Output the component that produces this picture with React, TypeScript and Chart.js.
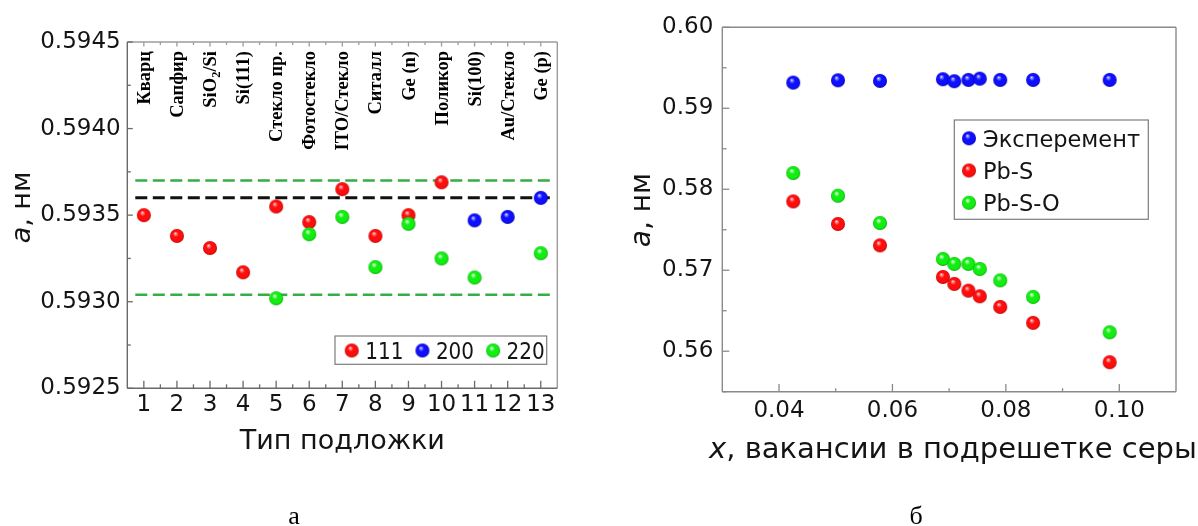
import React, { useEffect, useRef } from 'react';
import { Chart, registerables } from 'chart.js';

Chart.register(...registerables);

const SANS = '"DejaVu Sans", Verdana, sans-serif';
const SERIF = '"Liberation Serif", "Times New Roman", serif';

// ---- Panel а: lattice parameter of PbS films on different substrates ----
const SUBSTRATE_TYPES = [1, 2, 3, 4, 5, 6, 7, 8, 9, 10, 11, 12, 13];
const SUBSTRATE_NAMES = [
  'Кварц', 'Сапфир', 'SiO₂/Si', 'Si(111)', 'Стекло пр.', 'Фотостекло', 'ITO/Стекло',
  'Ситалл', 'Ge (n)', 'Поликор', 'Si(100)', 'Au/Стекло', 'Ge (p)',
];
const LATTICE_111 = [0.5935, 0.59338, 0.59331, 0.59317, 0.59355, 0.59346, 0.59365, 0.59338, 0.5935, 0.59369, null, null, null];
const LATTICE_200 = [null, null, null, null, null, null, null, null, null, null, 0.59347, 0.59349, 0.5936];
const LATTICE_220 = [null, null, null, null, 0.59302, 0.59339, 0.59349, 0.5932, 0.59345, 0.59325, 0.59314, null, 0.59328];
const PBS_REFERENCE = 0.5936;
const BAND_220_UPPER = 0.5937;
const BAND_220_LOWER = 0.59304;
const SUBSTRATE_Y_TICKS = [0.5925, 0.593, 0.5935, 0.594, 0.5945];

// ---- Panel б: lattice parameter vs sulfur-sublattice vacancies ----
const SULFUR_VACANCY = [0.0425, 0.0504, 0.0578, 0.0689, 0.0709, 0.0734, 0.0754, 0.079, 0.0848, 0.0983];
const A_EXPERIMENT = [0.59317, 0.59346, 0.59338, 0.59359, 0.59334, 0.5935, 0.59366, 0.5935, 0.5935, 0.5935];
const A_PB_S = [0.5785, 0.57571, 0.57307, 0.56917, 0.56831, 0.56748, 0.56678, 0.56547, 0.5635, 0.55864];
const A_PB_S_O = [0.582, 0.5792, 0.57583, 0.57139, 0.57078, 0.57078, 0.57016, 0.56875, 0.56671, 0.56234];
const VACANCY_X_TICKS = [0.04, 0.06, 0.08, 0.1];
const VACANCY_Y_TICKS = [0.56, 0.57, 0.58, 0.59, 0.6];

type Part = { text: string; italic?: boolean };
type TickSpec = { axis: 'x' | 'y'; edge: 'left' | 'bottom' | 'top'; values: number[]; len: number };
type RefLine = { value: number; color: string; width: number };
type DecorSpec = {
  frame: { left: string; bottom: string; top: string; right: string; width: number };
  ticks: TickSpec[];
  refLines?: RefLine[];
  topLabels?: { xs: number[]; names: string[]; size: number; stretch: number; inset: number };
  legend: {
    orientation: 'row' | 'column';
    box: { x: number; y: number; w: number; h: number };
    size: number;
    scaleX: number;
    firstX: number;
    textGap: number;
    itemGap: number;
    firstY: number;
    rowStep: number;
  };
  xTitle: { parts: Part[]; x: number; baseline: number; size: number };
  yTitle: { parts: Part[]; x: number; y: number; size: number };
  letter: { text: string; x: number; baseline: number; size: number };
};

const TEXT = '#141414';

function midpoints(values: number[]): number[] {
  const out: number[] = [];
  for (let i = 0; i < values.length - 1; i++) out.push((values[i] + values[i + 1]) / 2);
  return out;
}

function toPoints(xs: number[], ys: (number | null)[]) {
  const pts: { x: number; y: number }[] = [];
  xs.forEach((x, i) => {
    const y = ys[i];
    if (y !== null && y !== undefined) pts.push({ x, y });
  });
  return pts;
}

function makeSphere(base: string, light: string, dark: string, d: number): HTMLCanvasElement {
  const c = document.createElement('canvas');
  c.width = d + 2;
  c.height = d + 2;
  const g = c.getContext('2d')!;
  const cx = c.width / 2;
  const cy = c.height / 2;
  const r = d / 2;
  const grad = g.createRadialGradient(cx - r * 0.25, cy - r * 0.4, 0, cx, cy, r);
  grad.addColorStop(0, '#ffffff');
  grad.addColorStop(0.13, light);
  grad.addColorStop(0.4, base);
  grad.addColorStop(0.82, base);
  grad.addColorStop(1, dark);
  g.fillStyle = grad;
  g.beginPath();
  g.arc(cx, cy, r, 0, Math.PI * 2);
  g.fill();
  return c;
}

function drawParts(ctx: CanvasRenderingContext2D, parts: Part[], size: number, x: number, y: number) {
  const fontOf = (p: Part) => `${p.italic ? 'italic ' : ''}${size}px ${SANS}`;
  const widths = parts.map((p) => {
    ctx.font = fontOf(p);
    return ctx.measureText(p.text).width;
  });
  const total = widths.reduce((a, b) => a + b, 0);
  let cx = x - total / 2;
  ctx.textAlign = 'left';
  ctx.textBaseline = 'alphabetic';
  ctx.fillStyle = TEXT;
  parts.forEach((p, i) => {
    ctx.font = fontOf(p);
    ctx.fillText(p.text, cx, y);
    cx += widths[i];
  });
}

// Vertical substrate name, reading bottom-to-top, ending at the anchor; subscript digits are lowered
function drawVerticalName(
  ctx: CanvasRenderingContext2D,
  name: string,
  x: number,
  yTop: number,
  size: number,
  stretch: number,
) {
  const segs: { text: string; sub: boolean }[] = [];
  for (const ch of name) {
    const code = ch.charCodeAt(0);
    const sub = code >= 0x2080 && code <= 0x2089;
    const t = sub ? String.fromCharCode(code - 0x2080 + 48) : ch;
    const last = segs[segs.length - 1];
    if (last && last.sub === sub) last.text += t;
    else segs.push({ text: t, sub });
  }
  const subSize = size * 0.68;
  const fontOf = (sub: boolean) => `bold ${sub ? subSize : size}px ${SERIF}`;
  const widths = segs.map((s) => {
    ctx.font = fontOf(s.sub);
    return ctx.measureText(s.text).width;
  });
  const total = widths.reduce((a, b) => a + b, 0);
  ctx.save();
  ctx.translate(x, yTop);
  ctx.rotate(-Math.PI / 2);
  ctx.scale(stretch, 1);
  ctx.textAlign = 'left';
  ctx.textBaseline = 'alphabetic';
  ctx.fillStyle = '#000';
  let cx = -total;
  const base = size * 0.33;
  segs.forEach((s, i) => {
    ctx.font = fontOf(s.sub);
    ctx.fillText(s.text, cx, s.sub ? base + size * 0.2 : base);
    cx += widths[i];
  });
  ctx.restore();
}

function decorPlugin(spec: DecorSpec) {
  return {
    id: 'decor',
    beforeDatasetsDraw(chart: any) {
      const { ctx, chartArea: a, scales } = chart;
      ctx.save();
      // dashed reference levels
      (spec.refLines || []).forEach((l) => {
        const y = scales.y.getPixelForValue(l.value);
        ctx.strokeStyle = l.color;
        ctx.lineWidth = l.width;
        ctx.setLineDash([12, 5.5]);
        ctx.beginPath();
        ctx.moveTo(a.left + 8, y);
        ctx.lineTo(a.right - 5, y);
        ctx.stroke();
      });
      ctx.setLineDash([]);
      // frame
      const f = spec.frame;
      ctx.lineWidth = f.width;
      const side = (color: string, x1: number, y1: number, x2: number, y2: number) => {
        ctx.strokeStyle = color;
        ctx.beginPath();
        ctx.moveTo(x1, y1);
        ctx.lineTo(x2, y2);
        ctx.stroke();
      };
      side(f.top, a.left, a.top, a.right, a.top);
      side(f.right, a.right, a.top, a.right, a.bottom);
      side(f.left, a.left, a.top, a.left, a.bottom);
      side(f.bottom, a.left, a.bottom, a.right, a.bottom);
      // inward tick marks
      ctx.lineWidth = 1.3;
      spec.ticks.forEach((t) => {
        const sc = scales[t.axis];
        ctx.strokeStyle = t.edge === 'top' ? f.top : t.edge === 'left' ? f.left : f.bottom;
        t.values.forEach((v) => {
          const p = sc.getPixelForValue(v);
          ctx.beginPath();
          if (t.edge === 'left') {
            ctx.moveTo(a.left, p);
            ctx.lineTo(a.left + t.len, p);
          } else if (t.edge === 'bottom') {
            ctx.moveTo(p, a.bottom);
            ctx.lineTo(p, a.bottom - t.len);
          } else {
            ctx.moveTo(p, a.top);
            ctx.lineTo(p, a.top + t.len);
          }
          ctx.stroke();
        });
      });
      // substrate names along the top
      if (spec.topLabels) {
        const tl = spec.topLabels;
        tl.xs.forEach((v, i) => {
          drawVerticalName(ctx, tl.names[i], scales.x.getPixelForValue(v), a.top + tl.inset, tl.size, tl.stretch);
        });
      }
      ctx.restore();
    },
    afterDatasetsDraw(chart: any) {
      const { ctx } = chart;
      const lg = spec.legend;
      ctx.save();
      ctx.fillStyle = '#fff';
      ctx.fillRect(lg.box.x, lg.box.y, lg.box.w, lg.box.h);
      ctx.strokeStyle = '#7c7c7c';
      ctx.lineWidth = 1.2;
      ctx.strokeRect(lg.box.x, lg.box.y, lg.box.w, lg.box.h);
      ctx.font = `${lg.size}px ${SANS}`;
      ctx.textAlign = 'left';
      ctx.textBaseline = 'alphabetic';
      ctx.fillStyle = TEXT;
      const capHalf = lg.size * 0.729 * 0.5;
      let x = lg.firstX;
      let y = lg.firstY;
      chart.data.datasets.forEach((ds: any) => {
        const img = ds.pointStyle as HTMLCanvasElement;
        ctx.drawImage(img, x - img.width / 2, y - img.height / 2);
        ctx.save();
        ctx.translate(x + lg.textGap, y + capHalf);
        ctx.scale(lg.scaleX, 1);
        ctx.fillText(ds.label, 0, 0);
        ctx.restore();
        if (lg.orientation === 'row') {
          x += lg.textGap + ctx.measureText(ds.label).width * lg.scaleX + lg.itemGap;
        } else {
          y += lg.rowStep;
        }
      });
      ctx.restore();
    },
    afterDraw(chart: any) {
      const { ctx } = chart;
      ctx.save();
      drawParts(ctx, spec.xTitle.parts, spec.xTitle.size, spec.xTitle.x, spec.xTitle.baseline);
      ctx.save();
      ctx.translate(spec.yTitle.x, spec.yTitle.y);
      ctx.rotate(-Math.PI / 2);
      drawParts(ctx, spec.yTitle.parts, spec.yTitle.size, 0, 0);
      ctx.restore();
      ctx.font = `${spec.letter.size}px ${SERIF}`;
      ctx.textAlign = 'center';
      ctx.textBaseline = 'alphabetic';
      ctx.fillStyle = '#000';
      ctx.fillText(spec.letter.text, spec.letter.x, spec.letter.baseline);
      ctx.restore();
    },
  };
}

function axis(opts: {
  min: number;
  max: number;
  ticks: number[];
  fmt: (v: number) => string;
  padding: number;
  fit: (s: any) => void;
}) {
  return {
    type: 'linear',
    min: opts.min,
    max: opts.max,
    grid: { display: false, drawTicks: false },
    border: { display: false },
    afterBuildTicks: (s: any) => {
      s.ticks = opts.ticks.map((v) => ({ value: v }));
    },
    afterFit: opts.fit,
    ticks: {
      autoSkip: false,
      maxRotation: 0,
      padding: opts.padding,
      color: TEXT,
      font: { family: SANS, size: 23 },
      callback: (v: any) => opts.fmt(Number(v)),
    },
  };
}

const H = 526;

function substrateChart(canvas: HTMLCanvasElement, sph: Record<string, HTMLCanvasElement>) {
  const spec: DecorSpec = {
    frame: { left: '#6a6a6a', bottom: '#6a6a6a', top: '#9c9c9c', right: '#9c9c9c', width: 1.4 },
    ticks: [
      { axis: 'y', edge: 'left', values: SUBSTRATE_Y_TICKS, len: 5.5 },
      { axis: 'y', edge: 'left', values: midpoints(SUBSTRATE_Y_TICKS), len: 3.5 },
      { axis: 'x', edge: 'bottom', values: SUBSTRATE_TYPES, len: 7.5 },
      { axis: 'x', edge: 'bottom', values: midpoints(SUBSTRATE_TYPES), len: 4 },
      { axis: 'x', edge: 'top', values: SUBSTRATE_TYPES, len: 4.5 },
      { axis: 'x', edge: 'top', values: midpoints(SUBSTRATE_TYPES), len: 3 },
    ],
    refLines: [
      { value: BAND_220_UPPER, color: '#36ad47', width: 2.6 },
      { value: PBS_REFERENCE, color: '#111111', width: 3 },
      { value: BAND_220_LOWER, color: '#36ad47', width: 2.6 },
    ],
    topLabels: { xs: SUBSTRATE_TYPES, names: SUBSTRATE_NAMES, size: 18.5, stretch: 1, inset: 9 },
    legend: {
      orientation: 'row',
      box: { x: 335, y: 336, w: 211.7, h: 28.3 },
      size: 23,
      scaleX: 0.87,
      firstX: 351.7,
      textGap: 13.5,
      itemGap: 19,
      firstY: 350.5,
      rowStep: 0,
    },
    xTitle: { parts: [{ text: 'Тип подложки' }], x: 342.3, baseline: 448.5, size: 27 },
    yTitle: { parts: [{ text: 'a', italic: true }, { text: ', нм' }], x: 29.5, y: 207.5, size: 27 },
    letter: { text: 'а', x: 294, baseline: 524, size: 26 },
  };
  return new Chart(canvas, {
    type: 'scatter',
    data: {
      datasets: [
        { label: '111', data: toPoints(SUBSTRATE_TYPES, LATTICE_111), pointStyle: sph.red, pointRadius: 7, order: 2 },
        { label: '200', data: toPoints(SUBSTRATE_TYPES, LATTICE_200), pointStyle: sph.blue, pointRadius: 7, order: 1 },
        { label: '220', data: toPoints(SUBSTRATE_TYPES, LATTICE_220), pointStyle: sph.green, pointRadius: 7, order: 0 },
      ],
    },
    options: {
      animation: false,
      responsive: false,
      devicePixelRatio: 1,
      events: [],
      layout: { padding: { left: 0, top: 42, right: 42.7, bottom: 0 } },
      plugins: { legend: { display: false }, tooltip: { enabled: false } },
      scales: {
        x: axis({
          min: 0.5,
          max: 13.5,
          ticks: SUBSTRATE_TYPES,
          fmt: (v) => String(Math.round(v)),
          padding: 3,
          fit: (s) => {
            s.height = H - 388.3;
          },
        }),
        y: axis({
          min: 0.5925,
          max: 0.5945,
          ticks: SUBSTRATE_Y_TICKS,
          fmt: (v) => v.toFixed(4),
          padding: 6.6,
          fit: (s) => {
            s.width = 127.3;
          },
        }),
      },
    } as any,
    plugins: [decorPlugin(spec)],
  });
}

function vacancyChart(canvas: HTMLCanvasElement, sph: Record<string, HTMLCanvasElement>) {
  const spec: DecorSpec = {
    frame: { left: '#8a8a8a', bottom: '#8a8a8a', top: '#8a8a8a', right: '#8a8a8a', width: 1.4 },
    ticks: [
      { axis: 'y', edge: 'left', values: VACANCY_Y_TICKS, len: 7 },
      { axis: 'y', edge: 'left', values: [0.555, ...midpoints(VACANCY_Y_TICKS)], len: 4.3 },
      { axis: 'x', edge: 'bottom', values: VACANCY_X_TICKS, len: 7.7 },
      { axis: 'x', edge: 'bottom', values: midpoints(VACANCY_X_TICKS), len: 3.5 },
    ],
    legend: {
      orientation: 'column',
      box: { x: 354.3, y: 120, w: 194, h: 99.3 },
      size: 22.5,
      scaleX: 1,
      firstX: 369,
      textGap: 14,
      itemGap: 0,
      firstY: 138.3,
      rowStep: 32.2,
    },
    xTitle: { parts: [{ text: 'x', italic: true }, { text: ', вакансии в подрешетке серы' }], x: 353, baseline: 458, size: 29 },
    yTitle: { parts: [{ text: 'a', italic: true }, { text: ', нм' }], x: 50, y: 210, size: 28 },
    letter: { text: 'б', x: 316, baseline: 524, size: 26 },
  };
  return new Chart(canvas, {
    type: 'scatter',
    data: {
      datasets: [
        { label: 'Эксперемент', data: toPoints(SULFUR_VACANCY, A_EXPERIMENT), pointStyle: sph.blue, pointRadius: 7, order: 0 },
        { label: 'Pb-S', data: toPoints(SULFUR_VACANCY, A_PB_S), pointStyle: sph.red, pointRadius: 7, order: 1 },
        { label: 'Pb-S-O', data: toPoints(SULFUR_VACANCY, A_PB_S_O), pointStyle: sph.green, pointRadius: 7, order: 2 },
      ],
    },
    options: {
      animation: false,
      responsive: false,
      devicePixelRatio: 1,
      events: [],
      layout: { padding: { left: 0, top: 27.3, right: 22, bottom: 0 } },
      plugins: { legend: { display: false }, tooltip: { enabled: false } },
      scales: {
        x: axis({
          min: 0.03,
          max: 0.11,
          ticks: VACANCY_X_TICKS,
          fmt: (v) => v.toFixed(2),
          padding: 5.2,
          fit: (s) => {
            s.height = H - 391.7;
          },
        }),
        y: axis({
          min: 0.555,
          max: 0.6,
          ticks: VACANCY_Y_TICKS,
          fmt: (v) => v.toFixed(2),
          padding: 9,
          fit: (s) => {
            s.width = 122.3;
          },
        }),
      },
    } as any,
    plugins: [decorPlugin(spec)],
  });
}

export default function App() {
  const leftRef = useRef<HTMLCanvasElement>(null);
  const rightRef = useRef<HTMLCanvasElement>(null);

  useEffect(() => {
    const sph = {
      red: makeSphere('#ff0d0d', '#ff9a9a', '#b80000', 14),
      blue: makeSphere('#0f0fff', '#9a9aff', '#0000a8', 14),
      green: makeSphere('#12ee12', '#b0ffb0', '#00a800', 14),
    };
    const a = substrateChart(leftRef.current!, sph);
    const b = vacancyChart(rightRef.current!, sph);
    return () => {
      a.destroy();
      b.destroy();
    };
  }, []);

  return (
    <div style={{ position: 'fixed', left: 0, top: 0, width: 1198, height: H, background: '#fff', overflow: 'hidden' }}>
      <canvas ref={leftRef} width={600} height={H} style={{ position: 'absolute', left: 0, top: 0 }} />
      <canvas ref={rightRef} width={598} height={H} style={{ position: 'absolute', left: 600, top: 0 }} />
    </div>
  );
}
